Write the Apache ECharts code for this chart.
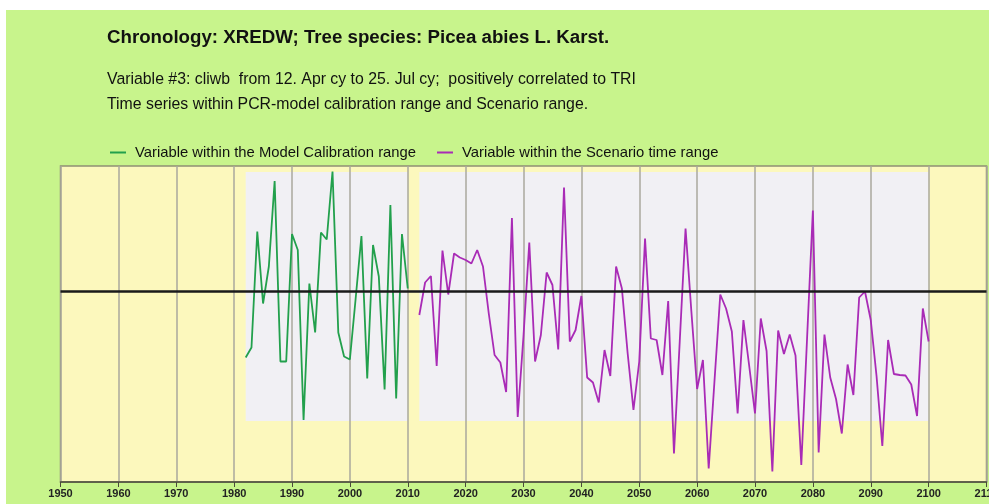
<!DOCTYPE html>
<html>
<head>
<meta charset="utf-8">
<script src="https://cdn.jsdelivr.net/npm/echarts@6/dist/echarts.min.js"></script>
<style>
html,body{margin:0;padding:0;background:#ffffff;overflow:hidden;width:989px;height:504px;}
#chart{width:989px;height:504px;}
</style>
</head>
<body>
<div id="chart"></div>
<script>
// ---- data ----
const calibYears = [1982,1983,1984,1985,1986,1987,1988,1989,1990,1991,1992,1993,1994,1995,1996,1997,1998,1999,2000,2001,2002,2003,2004,2005,2006,2007,2008,2009,2010];
const calibValues = [-1.33,-1.13,1.19,-0.25,0.49,2.2,-1.41,-1.41,1.14,0.82,-2.58,0.15,-0.83,1.17,1.03,2.39,-0.83,-1.31,-1.37,-0.15,1.1,-1.75,0.92,0.29,-1.97,1.72,-2.15,1.14,0.05];
const scenYearStart = 2012;
const scenValues = [
 -0.48,0.17,0.3,-1.5,0.81,-0.07,0.75,0.67,0.62,0.55,   // 2012-2021
 0.82,0.49,-0.45,-1.28,-1.43,-2.02,1.46,-2.52,-0.9,0.97, // 2022-2031
 -1.41,-0.88,0.37,0.12,-1.17,2.07,-1.01,-0.78,-0.1,-1.73, // 2032-2041
 -1.83,-2.23,-1.18,-1.7,0.49,0.05,-1.25,-2.38,-1.41,1.05, // 2042-2051
 -0.95,-0.98,-1.68,-0.2,-3.25,-1.0,1.25,-0.4,-1.96,-1.38, // 2052-2061
 -3.55,-1.8,-0.07,-0.35,-0.81,-2.45,-0.58,-1.5,-2.45,-0.55, // 2062-2071
 -1.2,-3.61,-0.79,-1.26,-0.87,-1.29,-3.48,-0.94,1.61,-3.23, // 2072-2081
 -0.87,-1.73,-2.16,-2.85,-1.47,-2.08,-0.13,-0.01,-0.58,-1.7, // 2082-2091
 -3.1,-0.98,-1.66,-1.68,-1.69,-1.87,-2.5,-0.35,-1.01         // 2092-2100
];
const scenYears = scenValues.map((v,i)=>scenYearStart+i);
const calibRange = [1982, 2010];
const scenRange = [2012, 2100];
const bandValueRange = [2.38, -2.6];
const seriesNames = ['Variable within the Model Calibration range','Variable within the Scenario time range'];
const titleText = 'Chronology: XREDW; Tree species: Picea abies L. Karst.';
const subText = 'Variable #3: cliwb  from 12. Apr cy to 25. Jul cy;  positively correlated to TRI\nTime series within PCR-model calibration range and Scenario range.';

const calibData = calibYears.map((y,i)=>[y,calibValues[i]]);
const scenData = scenYears.map((y,i)=>[y,scenValues[i]]);

const chart = echarts.init(document.getElementById('chart'), null, {renderer:'canvas', width:989, height:504});
const FONT = 'Liberation Sans, Arial, sans-serif';
chart.setOption({
  animation:false,
  backgroundColor:'transparent',
  graphic:[{type:'rect', z:-10, shape:{x:6,y:10,width:983,height:494}, style:{fill:'#c8f48c'}}],
  title:[
    {text:titleText, left:102, top:23, textStyle:{fontFamily:FONT, fontSize:18.7, fontWeight:'bold', color:'#111'}},
    {text:subText, left:102, top:62, textStyle:{fontFamily:FONT, fontSize:15.85, fontWeight:'normal', color:'#111', lineHeight:25}}
  ],
  legend:{
    left:105, top:140, itemWidth:16, itemHeight:2, itemGap:21, icon:'rect',
    data:[{name:seriesNames[0], icon:'rect'},{name:seriesNames[1], icon:'rect'}],
    textStyle:{fontFamily:FONT, fontSize:14.8, color:'#111', padding:[0,0,0,4]}
  },
  grid:{left:60.5, right:2.5, top:166, bottom:22, containLabel:false, outerBoundsMode:'none',
        show:true, backgroundColor:'#fcf8bd', borderColor:'#8f8f74', borderWidth:1.5},
  xAxis:{
    type:'value', min:1950, max:2110, interval:10, z:2,
    axisLine:{show:true, onZero:false, lineStyle:{color:'#4a4a3a', width:1.5}},
    axisTick:{show:true, length:5, lineStyle:{color:'#4a4a3a'}},
    axisLabel:{fontFamily:FONT, fontSize:11, fontWeight:'bold', color:'#222', margin:6, showMaxLabel:true, showMinLabel:true,
      hideOverlap:false, formatter:function(v){return String(v);}},
    splitLine:{show:true, lineStyle:{color:'#aaa99e', width:1.5}}
  },
  yAxis:{type:'value', min:-3.82, max:2.5, show:false, splitLine:{show:false}},
  series:[
    {name:'bands', type:'line', data:[], z:1, silent:true,
     markArea:{silent:true, itemStyle:{color:'#f1f0f4'},
       data:[[{xAxis:calibRange[0], yAxis:bandValueRange[0]},{xAxis:calibRange[1], yAxis:bandValueRange[1]}],
             [{xAxis:scenRange[0], yAxis:bandValueRange[0]},{xAxis:scenRange[1], yAxis:bandValueRange[1]}]]}},
    {name:seriesNames[0], type:'line', data:calibData, z:3, symbol:'none', color:'#22a04c', lineStyle:{width:1.8, color:'#22a04c'}},
    {name:seriesNames[1], type:'line', data:scenData, z:3, symbol:'none', color:'#a92bb6', lineStyle:{width:1.8, color:'#a92bb6'},
     markLine:{silent:true, symbol:'none', label:{show:false}, lineStyle:{color:'#1a1a1a', width:2.5, type:'solid'}, data:[{yAxis:0}]}}
  ]
});
</script>
</body>
</html>
